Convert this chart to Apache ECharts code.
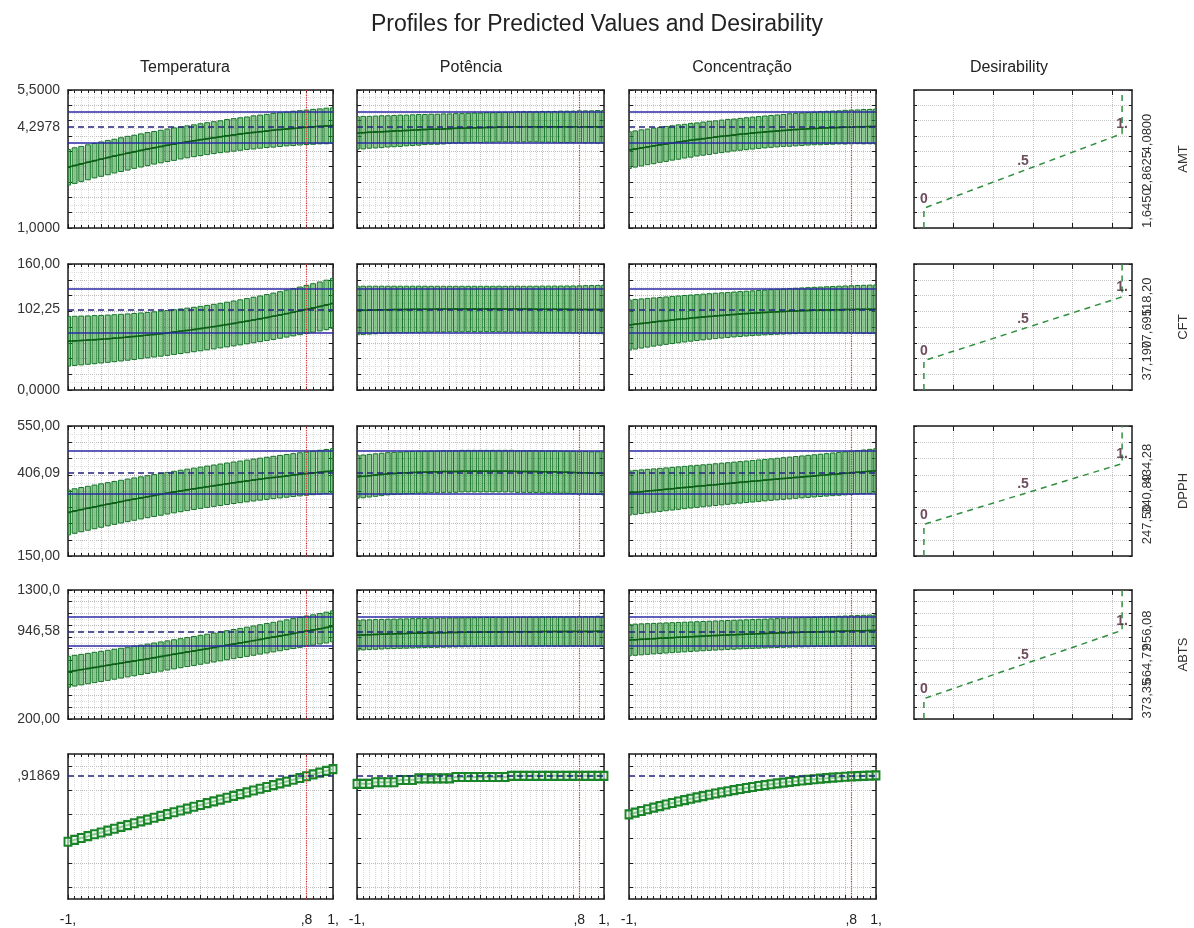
<!DOCTYPE html>
<html>
<head>
<meta charset="utf-8">
<title>Profiles for Predicted Values and Desirability</title>
<script src="https://cdn.jsdelivr.net/npm/echarts@6/dist/echarts.min.js"></script>
<style>
html,body{margin:0;padding:0;background:#ffffff;}
#chart{width:1194px;height:928px;}
</style>
</head>
<body>
<div id="chart"></div>
<script>
// ================= DATA =================
const chartTitle = 'Profiles for Predicted Values and Desirability';
const factorNames = ['Temperatura', 'Potência', 'Concentração'];
const desirabilityHeader = 'Desirability';
const responseNames = ['AMT', 'CFT', 'DPPH', 'ABTS'];

const xLevels = [-1,-0.95,-0.9,-0.85,-0.8,-0.75,-0.7,-0.65,-0.6,-0.55,-0.5,-0.45,-0.4,-0.35,-0.3,-0.25,-0.2,-0.15,-0.1,-0.05,0,0.05,0.1,0.15,0.2,0.25,0.3,0.35,0.4,0.45,0.5,0.55,0.6,0.65,0.7,0.75,0.8,0.85,0.9,0.95,1];
const currentX = 0.8;
const xTickValues = [-1, 0.8, 1];
const xTickLabels = ['-1,', ',8', '1,'];

// y scales per row (AMT, CFT, DPPH, ABTS, overall desirability)
const yMins = [1, 0, 150, 200, -0.1];
const yMaxs = [5.5, 160, 550, 1300, 1.1];
const yIntervals = [0.5, 20, 50, 100, 0.1];
const yLabelValues = [[1, 4.2978, 5.5], [0, 102.25, 160], [150, 406.09, 550], [200, 946.58, 1300], [0.91869]];
const yLabelTexts = [['1,0000', '4,2978', '5,5000'], ['0,0000', '102,25', '160,00'], ['150,00', '406,09', '550,00'], ['200,00', '946,58', '1300,0'], [',91869']];
const overallTickValues = [0, 0.2, 0.4, 0.6, 0.8, 1.0];

// predicted value at current setting and its confidence limits
const currentValues = [4.2978, 102.25, 406.09, 946.58, 0.91869];
const ciLower = [3.78, 72.8, 340.8, 822];
const ciUpper = [4.79, 129.1, 473.0, 1072];

// AMT
const amtTemperatura = [2.980,3.035,3.090,3.143,3.195,3.246,3.296,3.345,3.393,3.439,3.485,3.529,3.573,3.615,3.656,3.696,3.735,3.773,3.810,3.845,3.880,3.913,3.946,3.977,4.007,4.036,4.064,4.091,4.117,4.141,4.165,4.187,4.209,4.229,4.248,4.266,4.283,4.299,4.314,4.327,4.340];
const amtTemperaturaHW = [0.58,0.58,0.57,0.57,0.56,0.56,0.56,0.55,0.55,0.55,0.54,0.54,0.54,0.53,0.53,0.53,0.53,0.52,0.52,0.52,0.52,0.52,0.52,0.52,0.53,0.53,0.53,0.53,0.54,0.54,0.54,0.55,0.55,0.55,0.56,0.56,0.56,0.57,0.57,0.58,0.58];
const amtPotencia = [4.10,4.11,4.12,4.13,4.14,4.15,4.16,4.17,4.18,4.19,4.20,4.21,4.22,4.22,4.23,4.24,4.25,4.25,4.26,4.27,4.27,4.28,4.28,4.29,4.29,4.29,4.30,4.30,4.30,4.30,4.30,4.30,4.30,4.30,4.30,4.30,4.30,4.30,4.30,4.30,4.30];
const amtPotenciaHW = [0.53,0.53,0.52,0.52,0.52,0.51,0.51,0.51,0.50,0.50,0.50,0.49,0.49,0.49,0.49,0.48,0.48,0.48,0.48,0.48,0.48,0.48,0.48,0.48,0.48,0.48,0.49,0.49,0.49,0.49,0.50,0.50,0.50,0.51,0.51,0.51,0.52,0.52,0.52,0.53,0.53];
const amtConcentracao = [3.540,3.576,3.611,3.645,3.678,3.711,3.742,3.773,3.803,3.832,3.860,3.887,3.914,3.939,3.964,3.988,4.011,4.033,4.055,4.075,4.095,4.114,4.132,4.149,4.165,4.181,4.195,4.209,4.222,4.234,4.245,4.255,4.265,4.273,4.281,4.288,4.294,4.300,4.304,4.307,4.310];
const amtConcentracaoHW = [0.60,0.59,0.59,0.58,0.58,0.57,0.57,0.56,0.56,0.55,0.55,0.54,0.54,0.54,0.53,0.53,0.53,0.52,0.52,0.52,0.52,0.52,0.52,0.52,0.52,0.52,0.53,0.53,0.53,0.53,0.53,0.54,0.54,0.54,0.54,0.55,0.55,0.55,0.56,0.56,0.57];

// CFT
const cftTemperatura = [62.00,62.42,62.88,63.38,63.92,64.50,65.12,65.78,66.48,67.22,68.00,68.82,69.68,70.58,71.52,72.50,73.52,74.58,75.68,76.82,78.00,79.22,80.48,81.78,83.12,84.50,85.92,87.38,88.88,90.42,92.00,93.62,95.28,96.98,98.72,100.50,102.32,104.18,106.08,108.02,110.00];
const cftTemperaturaHW = [31.5,31.2,31.0,30.7,30.5,30.2,30.0,29.8,29.6,29.4,29.2,29.0,28.8,28.7,28.6,28.5,28.4,28.3,28.3,28.2,28.2,28.2,28.3,28.3,28.4,28.5,28.6,28.7,28.9,29.0,29.2,29.4,29.6,29.8,30.0,30.2,30.5,30.8,31.1,31.4,31.7];
const cftPotencia = [101.0,101.2,101.4,101.6,101.8,102.0,102.1,102.2,102.3,102.4,102.5,102.6,102.6,102.7,102.7,102.8,102.8,102.8,102.9,102.9,102.9,102.9,102.9,102.9,102.8,102.8,102.8,102.7,102.7,102.6,102.6,102.5,102.5,102.4,102.4,102.3,102.3,102.3,102.2,102.2,102.2];
const cftPotenciaHW = [30.8,30.6,30.4,30.2,30.0,29.8,29.7,29.6,29.5,29.4,29.3,29.2,29.1,29.0,29.0,28.9,28.9,28.9,28.8,28.8,28.8,28.8,28.8,28.9,28.9,28.9,29.0,29.0,29.1,29.2,29.3,29.4,29.5,29.6,29.7,29.8,30.0,30.2,30.4,30.6,30.8];
const cftConcentracao = [82.50,83.49,84.45,85.39,86.30,87.19,88.05,88.89,89.70,90.49,91.25,91.99,92.70,93.39,94.05,94.69,95.30,95.89,96.45,96.99,97.50,97.99,98.45,98.89,99.30,99.69,100.05,100.39,100.70,100.99,101.25,101.49,101.70,101.89,102.05,102.19,102.30,102.39,102.45,102.49,102.50];
const cftConcentracaoHW = [31.8,31.5,31.2,30.9,30.6,30.3,30.1,29.9,29.7,29.5,29.3,29.1,29.0,28.9,28.8,28.7,28.6,28.5,28.5,28.4,28.4,28.4,28.4,28.5,28.5,28.6,28.7,28.8,28.9,29.0,29.1,29.2,29.4,29.5,29.7,29.9,30.1,30.3,30.5,30.7,30.9];

// DPPH
const dpphTemperatura = [284.0,288.4,292.7,296.9,301.1,305.3,309.3,313.3,317.3,321.2,325.0,328.8,332.5,336.1,339.7,343.3,346.7,350.1,353.5,356.8,360.0,363.2,366.3,369.3,372.3,375.3,378.1,380.9,383.7,386.4,389.0,391.6,394.1,396.5,398.9,401.3,403.5,405.7,407.9,410.0,412.0];
const dpphTemperaturaHW = [69,68.5,68,67.6,67.2,66.8,66.4,66,65.7,65.4,65.1,64.8,64.6,64.4,64.2,64,63.9,63.8,63.7,63.6,63.6,63.6,63.6,63.7,63.8,63.9,64,64.2,64.4,64.6,64.8,65.1,65.4,65.7,66,66.3,66.6,67,67.4,67.8,68.2];
const dpphPotencia = [394,395,397,399,401,403,404,405,406,407,408,408,409,409,410,410,410,411,411,411,411,411,411,411,411,411,410,410,410,410,409,409,409,408,408,407,406,406,405,405,404];
const dpphPotenciaHW = [66,65.8,65.6,65.4,65.2,65,64.9,64.8,64.7,64.6,64.5,64.4,64.3,64.2,64.2,64.1,64.1,64,64,64,64,64,64,64,64.1,64.1,64.2,64.2,64.3,64.4,64.5,64.6,64.7,64.8,64.9,65,65.2,65.4,65.6,65.8,66];
const dpphConcentracao = [344.0,345.9,347.8,349.7,351.5,353.4,355.2,357.1,358.9,360.7,362.5,364.3,366.1,367.9,369.6,371.4,373.1,374.9,376.6,378.3,380.0,381.7,383.4,385.1,386.7,388.4,390.0,391.7,393.3,394.9,396.5,398.1,399.7,401.3,402.8,404.4,405.9,407.5,409.0,410.5,412.0];
const dpphConcentracaoHW = [68,67.6,67.2,66.8,66.5,66.2,65.9,65.6,65.3,65.1,64.9,64.7,64.5,64.3,64.2,64.1,64,63.9,63.8,63.8,63.8,63.8,63.8,63.9,64,64.1,64.2,64.3,64.5,64.7,64.9,65.1,65.3,65.6,65.9,66.2,66.5,66.8,67.2,67.6,68];

// ABTS
const abtsTemperatura = [603.0,612.0,621.1,630.2,639.4,648.5,657.7,667.0,676.2,685.5,694.9,704.2,713.6,723.1,732.5,742.0,751.6,761.1,770.7,780.3,790.0,799.7,809.4,819.2,829.0,838.8,848.6,858.5,868.4,878.4,888.4,898.4,908.4,918.5,928.6,938.8,949.0,959.2,969.4,979.7,990.0];
const abtsTemperaturaHW = [132,131,130,129.5,129,128.5,128,127.5,127,126.5,126,125.6,125.2,124.8,124.5,124.2,124,123.8,123.6,123.5,123.4,123.4,123.5,123.6,123.8,124,124.2,124.5,124.8,125.2,125.6,126,126.5,127,127.5,128,128.5,129,130,131,132];
const abtsPotencia = [915,917,919,921,923,925,926,928,929,931,932,933,934,935,936,937,938,939,940,940,941,942,942,943,943,944,944,945,945,945,946,946,946,946,946,947,947,947,947,948,948];
const abtsPotenciaHW = [128,127.5,127,126.6,126.2,125.8,125.5,125.2,124.9,124.6,124.4,124.2,124,123.8,123.7,123.6,123.5,123.4,123.4,123.3,123.3,123.3,123.4,123.4,123.5,123.6,123.7,123.8,124,124.2,124.4,124.6,124.9,125.2,125.5,125.8,126.2,126.6,127,127.5,128];
const abtsConcentracao = [873.0,876.1,879.2,882.2,885.2,888.1,890.9,893.7,896.4,899.1,901.8,904.3,906.8,909.3,911.7,914.1,916.4,918.6,920.8,922.9,925.0,927.0,929.0,930.9,932.8,934.6,936.3,938.0,939.6,941.2,942.8,944.2,945.6,947.0,948.3,949.6,950.8,952.0,953.0,954.0,955.0];
const abtsConcentracaoHW = [134,133,132,131,130,129.2,128.4,127.7,127,126.4,125.8,125.3,124.8,124.4,124,123.7,123.4,123.2,123,122.9,122.8,122.8,122.9,123,123.2,123.4,123.7,124,124.4,124.8,125.3,125.8,126.4,127,127.7,128.4,129.2,130,131,132,133];

// overall desirability profiles (bottom row)
const desTemperatura = [0.3740,0.3894,0.4047,0.4200,0.4354,0.4507,0.4659,0.4812,0.4964,0.5117,0.5269,0.5421,0.5572,0.5724,0.5875,0.6027,0.6178,0.6328,0.6479,0.6630,0.6780,0.6930,0.7080,0.7229,0.7379,0.7529,0.7678,0.7827,0.7976,0.8125,0.8273,0.8422,0.8570,0.8718,0.8866,0.9014,0.9162,0.9309,0.9456,0.9603,0.9750];
const desPotencia = [0.853,0.853,0.853,0.866,0.866,0.866,0.866,0.885,0.885,0.885,0.898,0.898,0.898,0.898,0.898,0.898,0.910,0.910,0.910,0.910,0.910,0.910,0.910,0.910,0.910,0.919,0.919,0.919,0.919,0.919,0.919,0.919,0.919,0.919,0.919,0.919,0.919,0.919,0.919,0.919,0.919];
const desConcentracao = [0.6000,0.6145,0.6286,0.6424,0.6559,0.6690,0.6819,0.6944,0.7065,0.7184,0.7299,0.7411,0.7519,0.7625,0.7727,0.7825,0.7921,0.8013,0.8102,0.8188,0.8270,0.8349,0.8425,0.8498,0.8567,0.8633,0.8696,0.8755,0.8811,0.8864,0.8914,0.8960,0.9003,0.9043,0.9080,0.9113,0.9143,0.9170,0.9193,0.9213,0.9230];

// desirability functions (response value at d = 0, .5, 1)
const desLowValues = [1.645, 37.19, 247.50, 373.35];
const desMidValues = [2.8625, 77.695, 340.89, 664.72];
const desHighValues = [4.08, 118.20, 434.28, 956.08];
const desLowTexts = ['1,6450', '37,190', '247,50', '373,35'];
const desMidTexts = ['2,8625', '77,695', '340,89', '664,72'];
const desHighTexts = ['4,0800', '118,20', '434,28', '956,08'];
const desPointLabels = ['0', '.5', '1.'];
const desXTicks = [0.15, 0.35, 0.55, 0.75, 0.95];

// ================= LAYOUT / STYLE =================
const FONT = '"Liberation Sans", Arial, Helvetica, sans-serif';
const colLeft = [68, 357, 629, 914];
const colWidth = [265, 247, 247, 218];
const rowTop = [90, 264, 426, 590, 754];
const rowHeight = [138, 126, 130, 129, 145];
const headerX = [180, 466, 737, 1004];

function frame() { return {show: true, onZero: false, lineStyle: {color: '#1b1b1b', width: 1.5}}; }
function tick(len) { return {show: true, inside: true, length: len, lineStyle: {color: '#1b1b1b', width: 1}}; }
const GREEN_FILL = 'rgba(62,165,72,0.60)';
const GREEN_EDGE = '#17752a';
const GREEN_LINE = '#0b5e15';
function blueSolid() { return {color: '#2b2ba6', type: 'solid', width: 1.5}; }
function blueDash() { return {color: '#23237e', type: [6, 4], width: 1.5}; }

const profiles = [
  [[amtTemperatura, amtTemperaturaHW], [amtPotencia, amtPotenciaHW], [amtConcentracao, amtConcentracaoHW]],
  [[cftTemperatura, cftTemperaturaHW], [cftPotencia, cftPotenciaHW], [cftConcentracao, cftConcentracaoHW]],
  [[dpphTemperatura, dpphTemperaturaHW], [dpphPotencia, dpphPotenciaHW], [dpphConcentracao, dpphConcentracaoHW]],
  [[abtsTemperatura, abtsTemperaturaHW], [abtsPotencia, abtsPotenciaHW], [abtsConcentracao, abtsConcentracaoHW]]
];
const overallProfiles = [desTemperatura, desPotencia, desConcentracao];

function nearestText(vals, texts, v) {
  let bi = 0, bd = Infinity;
  vals.forEach((x, i) => { const d = Math.abs(x - v); if (d < bd) { bd = d; bi = i; } });
  return texts[bi];
}

const grids = [], xAxes = [], yAxes = [], series = [];

function addGrid(r, c) {
  grids.push({left: colLeft[c], top: rowTop[r], width: colWidth[c], height: rowHeight[r], show: true, backgroundColor: '#ffffff', borderWidth: 0});
  return grids.length - 1;
}

function addMainAxes(g, r, c) {
  const showX = (r === 4);
  const showY = (c === 0);
  xAxes.push({
    gridIndex: g, type: 'value', min: -1, max: 1, interval: 0.25, position: 'bottom',
    axisLine: frame(), axisTick: tick(4),
    minorTick: {show: true, splitNumber: 5, length: 3, lineStyle: {color: '#1b1b1b', width: 1}},
    splitLine: {show: true, lineStyle: {color: '#bdbdbd', type: 'dotted', width: 1}},
    minorSplitLine: {show: true, lineStyle: {color: '#d9d9d9', type: 'dotted', width: 1}},
    axisLabel: showX ? {show: true, customValues: xTickValues, formatter: v => nearestText(xTickValues, xTickLabels, v),
      fontFamily: FONT, fontSize: 14, color: '#222', margin: 14, hideOverlap: false, showMinLabel: true, showMaxLabel: true} : {show: false}
  });
  const xi = xAxes.length - 1;
  xAxes.push({
    gridIndex: g, type: 'value', min: -1, max: 1, interval: 0.25, position: 'top',
    axisLine: frame(), axisTick: tick(4),
    minorTick: {show: true, splitNumber: 5, length: 3, lineStyle: {color: '#1b1b1b', width: 1}},
    splitLine: {show: false}, axisLabel: {show: false}
  });

  const yTick = tick(4);
  if (r === 4) yTick.customValues = overallTickValues;
  const yTickR = tick(4);
  if (r === 4) yTickR.customValues = overallTickValues;
  yAxes.push({
    gridIndex: g, type: 'value', min: yMins[r], max: yMaxs[r], interval: yIntervals[r], position: 'left',
    axisLine: frame(), axisTick: yTick,
    minorTick: {show: false, splitNumber: 2},
    splitLine: {show: true, lineStyle: {color: '#bdbdbd', type: 'dotted', width: 1}},
    minorSplitLine: {show: r !== 4, lineStyle: {color: '#dedede', type: 'dotted', width: 1}},
    axisLabel: showY ? {show: true, customValues: yLabelValues[r], formatter: v => nearestText(yLabelValues[r], yLabelTexts[r], v),
      fontFamily: FONT, fontSize: 14, color: '#333', margin: 8, hideOverlap: false, showMinLabel: true, showMaxLabel: true} : {show: false}
  });
  const yi = yAxes.length - 1;
  yAxes.push({
    gridIndex: g, type: 'value', min: yMins[r], max: yMaxs[r], interval: yIntervals[r], position: 'right',
    axisLine: frame(), axisTick: yTickR, splitLine: {show: false}, axisLabel: {show: false}
  });
  return [xi, yi];
}

function boxRender(params, api) {
  const x = api.value(0);
  const lo = api.coord([x, api.value(1)]);
  const hi = api.coord([x, api.value(2)]);
  const mid = api.coord([x, api.value(3)]);
  const w = Math.max(2, api.size([0.05, 0])[0] * 0.74);
  return {
    type: 'group',
    children: [
      {type: 'rect', shape: {x: lo[0] - w / 2, y: hi[1], width: w, height: lo[1] - hi[1]},
        style: {fill: GREEN_FILL, stroke: GREEN_EDGE, lineWidth: 1}},
      {type: 'line', shape: {x1: lo[0] - w / 2, y1: mid[1], x2: lo[0] + w / 2, y2: mid[1]},
        style: {stroke: GREEN_LINE, lineWidth: 1.5}}
    ]
  };
}

// ---- main profile panels ----
for (let r = 0; r < 5; r++) {
  for (let c = 0; c < 3; c++) {
    const g = addGrid(r, c);
    const [xi, yi] = addMainAxes(g, r, c);
    const refLines = [];
    if (r < 4) {
      refLines.push({yAxis: ciLower[r], lineStyle: blueSolid()});
      refLines.push({yAxis: ciUpper[r], lineStyle: blueSolid()});
    }
    refLines.push({yAxis: currentValues[r], lineStyle: blueDash()});
    series.push({
      type: 'line', xAxisIndex: xi, yAxisIndex: yi, z: 1, silent: true,
      data: [[-1, currentValues[r]], [1, currentValues[r]]],
      showSymbol: false, lineStyle: {opacity: 0},
      markLine: {silent: true, symbol: 'none', animation: false, label: {show: false}, data: refLines}
    });
    if (r < 4) {
      const mean = profiles[r][c][0];
      const hw = profiles[r][c][1];
      series.push({
        type: 'custom', xAxisIndex: xi, yAxisIndex: yi, z: 2, silent: true, clip: true,
        data: xLevels.map((x, i) => [x, mean[i] - hw[i], mean[i] + hw[i], mean[i]]),
        encode: {x: 0, y: [1, 2]},
        renderItem: boxRender
      });
      series.push({
        type: 'line', xAxisIndex: xi, yAxisIndex: yi, z: 3, silent: true,
        data: xLevels.map((x, i) => [x, mean[i]]),
        showSymbol: false, lineStyle: {color: GREEN_LINE, width: 1.5}
      });
    } else {
      const prof = overallProfiles[c];
      series.push({
        type: 'line', xAxisIndex: xi, yAxisIndex: yi, z: 3, silent: true,
        data: xLevels.map((x, i) => [x, prof[i]]),
        symbol: 'rect', symbolSize: [7, 8], showSymbol: true,
        lineStyle: {color: '#1c8a2a', width: 2},
        itemStyle: {color: 'rgba(225,245,225,0.6)', borderColor: '#1a8428', borderWidth: 2}
      });
    }
    // current factor level (red dotted vertical)
    series.push({
      type: 'line', xAxisIndex: xi, yAxisIndex: yi, z: 6, silent: true,
      data: [[currentX, yMins[r]], [currentX, yMaxs[r]]],
      showSymbol: false, lineStyle: {opacity: 0},
      markLine: {silent: true, symbol: 'none', animation: false, label: {show: false},
        lineStyle: {color: '#d83030', type: 'dotted', width: 1.2},
        data: [{xAxis: currentX}]}
    });
  }
  // ---- desirability function panel ----
  if (r < 4) {
    const g = addGrid(r, 3);
    xAxes.push({
      gridIndex: g, type: 'value', min: -0.05, max: 1.05, position: 'bottom',
      axisLine: frame(), axisTick: Object.assign(tick(5), {customValues: desXTicks}),
      splitLine: {show: true, lineStyle: {color: '#c2c2c2', type: 'dotted', width: 1}},
      axisLabel: {show: false}
    });
    const xi = xAxes.length - 1;
    xAxes.push({
      gridIndex: g, type: 'value', min: -0.05, max: 1.05, position: 'top',
      axisLine: frame(), axisTick: Object.assign(tick(5), {customValues: desXTicks}),
      splitLine: {show: false}, axisLabel: {show: false}
    });
    yAxes.push({
      gridIndex: g, type: 'value', min: yMins[r], max: yMaxs[r], interval: yIntervals[r], position: 'left',
      axisLine: frame(), axisTick: tick(3),
      splitLine: {show: true, lineStyle: {color: '#c8c8c8', type: 'dotted', width: 1}},
      axisLabel: {show: false}
    });
    const yi = yAxes.length - 1;
    yAxes.push({
      gridIndex: g, type: 'value', min: yMins[r], max: yMaxs[r], interval: yIntervals[r], position: 'right',
      axisLine: frame(), axisTick: tick(3),
      splitLine: {show: false}, axisLabel: {show: false},
      name: responseNames[r], nameLocation: 'middle', nameRotate: 90, nameGap: 45, nameMoveOverlap: false,
      nameTextStyle: {fontFamily: FONT, fontSize: 13, color: '#333'}
    });
    // three overlapping response-value labels (low / mid / high), one axis each so none is dropped
    const lv = [desLowValues[r], desMidValues[r], desHighValues[r]];
    const lt = [desLowTexts[r], desMidTexts[r], desHighTexts[r]];
    lv.forEach((v, k) => {
      yAxes.push({
        gridIndex: g, type: 'value', min: yMins[r], max: yMaxs[r], position: 'right',
        axisLine: {show: false}, axisTick: {show: false}, splitLine: {show: false},
        axisLabel: {show: true, customValues: [v], formatter: () => lt[k], rotate: 90,
          hideOverlap: false, showMinLabel: true, showMaxLabel: true,
          fontFamily: FONT, fontSize: 13, color: '#333', margin: 9}
      });
    });
    series.push({
      type: 'line', xAxisIndex: xi, yAxisIndex: yi, z: 3, silent: true,
      data: [[0, yMins[r]], [0, desLowValues[r]], [1, desHighValues[r]], [1, yMaxs[r]]],
      showSymbol: false, lineStyle: {color: '#2f8f3f', width: 1.5, type: [6, 5]}
    });
    series.push({
      type: 'scatter', xAxisIndex: xi, yAxisIndex: yi, z: 4, silent: true,
      data: [[0, desLowValues[r]], [0.5, desMidValues[r]], [1, desHighValues[r]]],
      symbolSize: 1, itemStyle: {color: 'rgba(0,0,0,0)'},
      label: {show: true, position: 'top', distance: 2, formatter: p => desPointLabels[p.dataIndex],
        fontFamily: FONT, fontSize: 14, fontWeight: 'bold', color: '#4a2236'}
    });
  }
}

const titles = [{text: chartTitle, left: 'center', top: 8,
  textStyle: {fontFamily: FONT, fontSize: 23, fontWeight: 'normal', color: '#222'}}];
const headers = factorNames.concat([desirabilityHeader]);
headers.forEach((h, i) => titles.push({text: h, left: headerX[i], top: 55, textAlign: 'center',
  textStyle: {fontFamily: FONT, fontSize: 16, fontWeight: 'normal', color: '#222'}}));

const chart = echarts.init(document.getElementById('chart'), null, {renderer: 'canvas'});
chart.setOption({
  backgroundColor: '#ffffff',
  animation: false,
  title: titles,
  grid: grids,
  xAxis: xAxes,
  yAxis: yAxes,
  series: series
});
</script>
</body>
</html>
